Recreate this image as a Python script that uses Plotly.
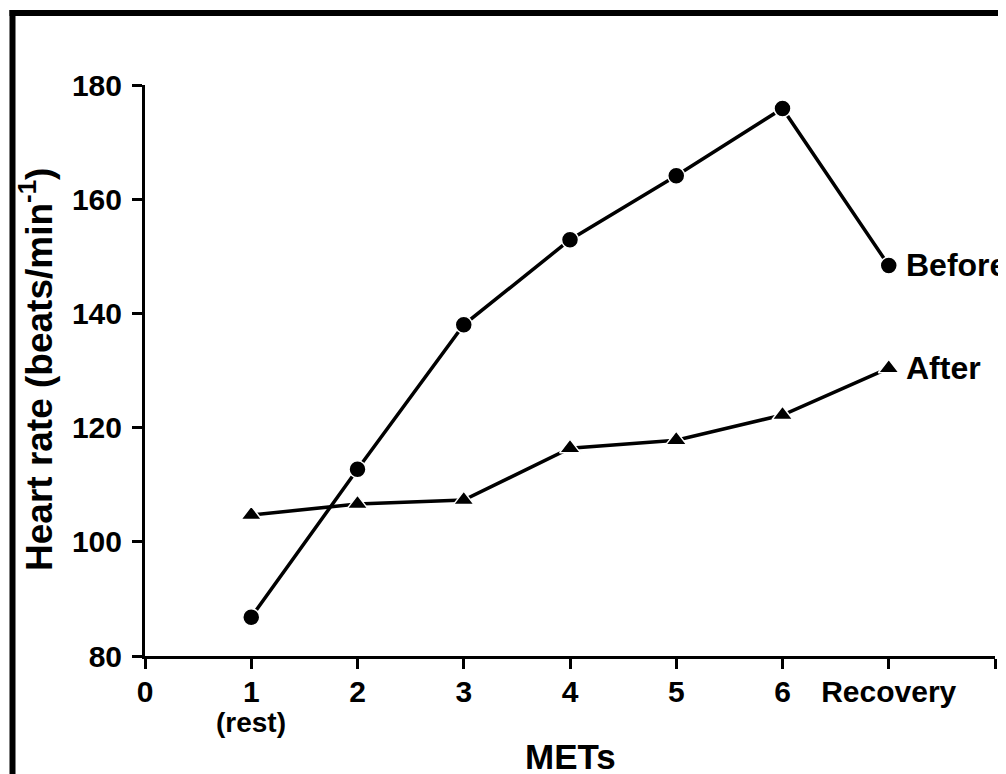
import plotly.graph_objects as go

# ---- data ----
mets_x = [1, 2, 3, 4, 5, 6, 7]                      # 7 = Recovery
tick_vals = [0, 1, 2, 3, 4, 5, 6, 7, 8]
tick_text = ["0", "1", "2", "3", "4", "5", "6", "Recovery", ""]
before_hr = [86.8, 112.7, 138.0, 152.9, 164.1, 175.9, 148.4]
after_hr = [104.7, 106.6, 107.3, 116.4, 117.8, 122.2, 130.4]
y_ticks = [80, 100, 120, 140, 160, 180]

# page body has an 8px margin -> compensate
OFF = 8
W, H = 1006 - OFF, 774 - OFF
X0, X1 = 145, 995     # screen px of plot area (x = 0..8)
Y0, Y1 = 85, 656      # screen px of plot area (y = 180..80)
L, R = X0 - OFF, W - (X1 - OFF)
T, B = Y0 - OFF, H - (Y1 - OFF)
PW, PH = X1 - X0, Y1 - Y0


def xp(px):
    return (px - X0) / PW


def yp(py):
    return (Y1 - py) / PH


FONT = "Liberation Sans, Arial, sans-serif"

fig = go.Figure()
fig.add_trace(go.Scatter(
    x=mets_x, y=before_hr, mode="lines+markers", name="Before",
    line=dict(color="black", width=3.5),
    marker=dict(symbol="circle", size=17, color="black",
                line=dict(color="white", width=1.5)),
    cliponaxis=False, showlegend=False))
fig.add_trace(go.Scatter(
    x=mets_x, y=after_hr, mode="lines+markers", name="After",
    line=dict(color="black", width=3.5),
    marker=dict(symbol="triangle-up", size=18, color="black",
                line=dict(color="white", width=1.5)),
    cliponaxis=False, showlegend=False))

tickfont = dict(family=FONT, size=30, color="black", weight="bold")

fig.update_layout(
    width=W, height=H,
    margin=dict(l=L, r=R, t=T, b=B),
    paper_bgcolor="white", plot_bgcolor="white",
    xaxis=dict(range=[0, 8], tickvals=tick_vals, ticktext=tick_text,
               showgrid=False, zeroline=False, showline=True,
               linecolor="black", linewidth=3, ticks="outside",
               ticklen=10, tickwidth=3, tickcolor="black",
               tickfont=tickfont, ticklabelstandoff=-3),
    yaxis=dict(range=[80, 180], tickvals=y_ticks,
               showgrid=False, zeroline=False, showline=True,
               linecolor="black", linewidth=3, ticks="outside",
               ticklen=10, tickwidth=3, tickcolor="black",
               tickfont=tickfont, ticklabelstandoff=4),
)

ann_font = dict(family=FONT, color="black", weight="bold")
fig.add_annotation(x=mets_x[-1], y=before_hr[-1], text="Before",
                   xref="x", yref="y", xanchor="left", yanchor="middle",
                   xshift=15, showarrow=False, font=dict(**ann_font, size=32))
fig.add_annotation(x=mets_x[-1], y=after_hr[-1], text="After",
                   xref="x", yref="y", xanchor="left", yanchor="middle",
                   xshift=15, showarrow=False, font=dict(**ann_font, size=32))
fig.add_annotation(x=1, y=yp(722), text="(rest)", xref="x", yref="paper",
                   xanchor="center", yanchor="middle", showarrow=False,
                   font=dict(**ann_font, size=28))
fig.add_annotation(x=4, y=yp(756), text="METs", xref="x", yref="paper",
                   xanchor="center", yanchor="middle", showarrow=False,
                   font=dict(**ann_font, size=35))
fig.add_annotation(x=xp(36), y=yp(370), text="Heart rate (beats/min<sup>-1</sup>)",
                   xref="paper", yref="paper", xanchor="center", yanchor="middle",
                   textangle=-90, showarrow=False, font=dict(**ann_font, size=37))

# frame border (left and top visible, cropped on right/bottom)
fig.add_shape(type="line", xref="paper", yref="paper",
              x0=xp(12.5), x1=xp(12.5), y0=yp(10), y1=yp(800),
              line=dict(color="black", width=6))
fig.add_shape(type="line", xref="paper", yref="paper",
              x0=xp(9.5), x1=xp(1030), y0=yp(13), y1=yp(13),
              line=dict(color="black", width=6))

fig.write_html("out.html")
